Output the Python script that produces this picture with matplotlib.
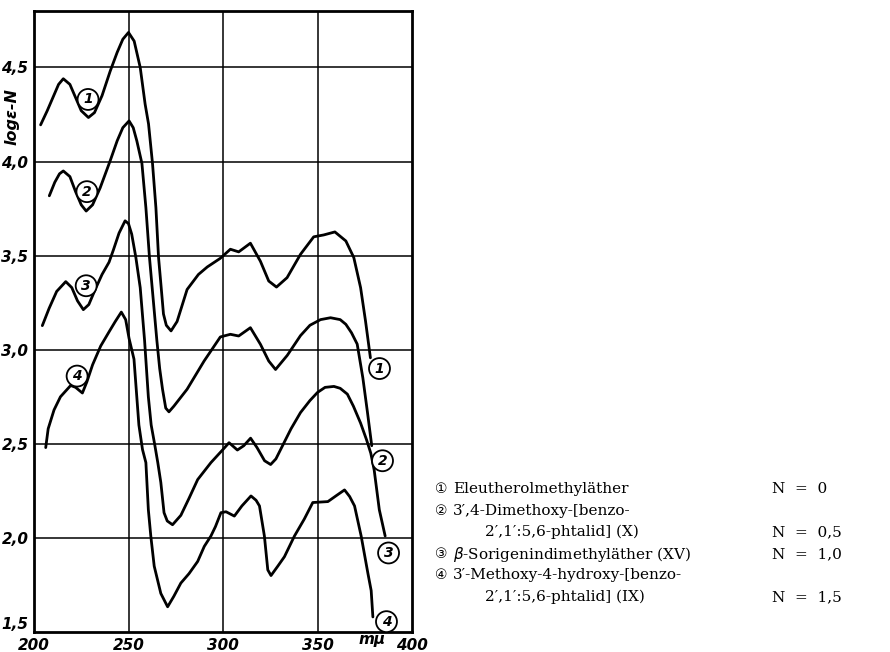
import matplotlib
matplotlib.use("Agg")
import matplotlib.pyplot as plt

# ---- data (wavelength in mμ, log ε - N) ----
x1 = [203.5, 207, 210, 213, 215.5, 219, 222, 225, 228.8, 232, 236, 240.3, 244, 247, 250, 253,
      256.2, 258.8, 260.6, 262.7, 264.5, 265.9, 267.3, 268.5, 270, 272.5, 275.7, 281, 287,
      291.7, 298.6, 303.9, 308.3, 314.5, 319.8, 324.2, 328.3, 333.9, 341, 348, 353.3, 359.2,
      365, 369.2, 372.8, 375.4, 378]
y1 = [4.195, 4.27, 4.34, 4.41, 4.44, 4.41, 4.34, 4.27, 4.234, 4.26, 4.35, 4.48, 4.58, 4.65,
      4.686, 4.64, 4.50, 4.305, 4.20, 3.99, 3.755, 3.49, 3.33, 3.19, 3.13, 3.10, 3.15, 3.32,
      3.40, 3.44, 3.486, 3.534, 3.52, 3.566, 3.47, 3.365, 3.333, 3.383, 3.507, 3.60, 3.61,
      3.626, 3.578, 3.49, 3.33, 3.153, 2.957]

x2 = [208.1, 211, 213.5, 215.5, 219, 222, 225, 227.6, 231, 235, 240.3, 244, 247, 250.3, 252.5,
      254.4, 257.1, 259.2, 261.1, 262.7, 265, 266.5, 268, 269.7, 271.4, 274, 281, 290, 298.6,
      303.9, 308.3, 314.5, 319.8, 324.2, 327.8, 334, 341, 346, 351.6, 356.9, 362, 365, 368,
      371, 374, 376.4, 378.7]
y2 = [3.818, 3.89, 3.935, 3.95, 3.92, 3.84, 3.77, 3.737, 3.77, 3.86, 4.004, 4.11, 4.18, 4.216,
      4.18, 4.11, 3.99, 3.755, 3.49, 3.31, 3.05, 2.90, 2.79, 2.69, 2.67, 2.70, 2.79, 2.94,
      3.068, 3.082, 3.073, 3.117, 3.029, 2.94, 2.895, 2.97, 3.075, 3.13, 3.16, 3.170, 3.16,
      3.135, 3.09, 3.03, 2.85, 2.67, 2.49]

x3 = [204.4, 208, 212, 216.8, 220, 223, 226.1, 229, 232.6, 236, 239.7, 242, 245, 248.2, 250,
      251.7, 253.9, 256.2, 258.5, 260.5, 262, 263.8, 265.5, 267.1, 268.8, 270.5, 273.3, 277.7,
      282, 286.6, 293.6, 300, 303.2, 305, 307.6, 311, 314.6, 318, 322, 325.2, 328, 332.3, 336,
      341, 346, 350, 354, 358.7, 362, 365.8, 369, 372.8, 376, 378.2, 380, 382.7, 385.8]
y3 = [3.128, 3.22, 3.31, 3.362, 3.33, 3.26, 3.213, 3.24, 3.325, 3.40, 3.465, 3.53, 3.62, 3.685,
      3.67, 3.614, 3.49, 3.33, 3.05, 2.75, 2.60, 2.50, 2.40, 2.295, 2.134, 2.09, 2.07, 2.12,
      2.21, 2.31, 2.40, 2.47, 2.506, 2.49, 2.467, 2.49, 2.53, 2.48, 2.41, 2.39, 2.42, 2.506, 2.58,
      2.666, 2.73, 2.773, 2.80, 2.805, 2.795, 2.764, 2.70, 2.61, 2.52, 2.45, 2.36, 2.15, 2.01]

x4 = [206.2, 207.5, 210.6, 214, 219.4, 222, 225.6, 228, 231, 235.3, 240, 243, 246.2, 248.5,
      250.3, 252.9, 255.5, 257.4, 259.2, 260.5, 261.8, 263.6, 267.1, 270.7, 274, 277.7, 282,
      286.6, 290.1, 293.6, 296, 298.9, 301.6, 306, 310, 314.8, 317.5, 319.3, 321.9, 323.7,
      325.4, 329, 332.5, 337.8, 343, 347.5, 355.5, 360, 364.3, 367, 369.6, 373.1, 376.7,
      378.4, 379.3]
y4 = [2.48, 2.58, 2.68, 2.75, 2.81, 2.80, 2.77, 2.83, 2.92, 3.02, 3.10, 3.15, 3.20, 3.16,
      3.06, 2.95, 2.60, 2.47, 2.40, 2.15, 2.01, 1.85, 1.705, 1.634, 1.69, 1.76, 1.81,
      1.875, 1.955, 2.01, 2.06, 2.134, 2.139, 2.116, 2.17, 2.223, 2.20, 2.17, 2.01, 1.83,
      1.80, 1.85, 1.90, 2.01, 2.10, 2.188, 2.193, 2.225, 2.255, 2.22, 2.17, 2.01, 1.81,
      1.72, 1.58]

xticks = [200, 250, 300, 350, 400]
xtick_labels = ["200", "250", "300", "350", "400"]
yticks = [1.5, 2.0, 2.5, 3.0, 3.5, 4.0, 4.5]
ytick_labels = ["1,5", "2,0", "2,5", "3,0", "3,5", "4,0", "4,5"]

curve_labels = ["1", "2", "3", "4"]
left_label_pos = [(228.6, 4.33), (228.0, 3.84), (227.6, 3.34), (222.8, 2.86)]
right_label_pos = [(382.8, 2.90), (384.4, 2.41), (387.6, 1.92), (386.5, 1.555)]

legend_marks = ["\u2460", "\u2461", "", "\u2462", "\u2463", ""]
legend_names = ["Eleutherolmethyläther",
                "3\u2032,4-Dimethoxy-[benzo-",
                "2\u2032,1\u2032:5,6-phtalid] (X)",
                "$\\beta$-Sorigenindimethyläther (XV)",
                "3\u2032-Methoxy-4-hydroxy-[benzo-",
                "2\u2032,1\u2032:5,6-phtalid] (IX)"]
legend_N = ["N  =  0", "", "N  =  0,5", "N  =  1,0", "", "N  =  1,5"]

# ---- figure ----
W, H = 890, 652
fig = plt.figure(figsize=(W / 100, H / 100), dpi=100)
ax = fig.add_axes([34 / W, (H - 632) / H, (412 - 34) / W, (632 - 11) / H])
ax.set_xlim(200, 400)
ax.set_ylim(1.5, 4.8)

for v in [250, 300, 350]:
    ax.axvline(v, color="black", lw=1.1, zorder=1)
for v in [2.0, 2.5, 3.0, 3.5, 4.0, 4.5]:
    ax.axhline(v, color="black", lw=1.1, zorder=1)

for xs, ys in [(x1, y1), (x2, y2), (x3, y3), (x4, y4)]:
    ax.plot(xs, ys, color="black", lw=2.0, solid_joinstyle="round",
            solid_capstyle="round", zorder=3)

for lab, (px, py) in zip(curve_labels, left_label_pos):
    ax.text(px, py, lab, ha="center", va="center", fontsize=10, style="italic",
            fontweight="bold", zorder=4,
            bbox=dict(boxstyle="circle,pad=0.25", fc="white", ec="black", lw=1.3))
for lab, (px, py) in zip(curve_labels, right_label_pos):
    ax.text(px, py, lab, ha="center", va="center", fontsize=10, style="italic",
            fontweight="bold", zorder=4, clip_on=False,
            bbox=dict(boxstyle="circle,pad=0.25", fc="white", ec="black", lw=1.3))

for s in ax.spines.values():
    s.set_linewidth(2.0)
ax.set_xticks(xticks)
ax.set_xticklabels(xtick_labels, fontsize=11, style="italic", fontweight="bold")
ax.set_yticks(yticks)
ax.set_yticklabels(ytick_labels, fontsize=11, style="italic", fontweight="bold")
ax.get_yticklabels()[0].set_verticalalignment("bottom")
ax.tick_params(length=0, pad=4)

ax.text(379, 1.5, "mμ", transform=ax.transData, ha="center", va="top",
        fontsize=11, style="italic", fontweight="bold")
ax.text(-0.058, 0.83, "logε-N", transform=ax.transAxes, rotation=90,
        ha="center", va="center", fontsize=11.5, style="italic", fontweight="bold")

# ---- legend text ----
fam = ["DejaVu Serif", "DejaVu Sans"]
ys_px = [489, 511, 532, 554, 575, 597]
xs_px = [453, 453, 485, 453, 453, 485]
for m, t, n, yp, xp in zip(legend_marks, legend_names, legend_N, ys_px, xs_px):
    if m:
        fig.text(441 / W, 1 - yp / H, m, ha="center", va="center", fontsize=10,
                 family=["DejaVu Sans", "Noto Sans CJK JP"])
    fig.text(xp / W, 1 - yp / H, t, ha="left", va="center", fontsize=11, family=fam)
    if n:
        fig.text(772 / W, 1 - yp / H, n, ha="left", va="center", fontsize=11, family=fam)

fig.savefig("out.png", dpi=100)
